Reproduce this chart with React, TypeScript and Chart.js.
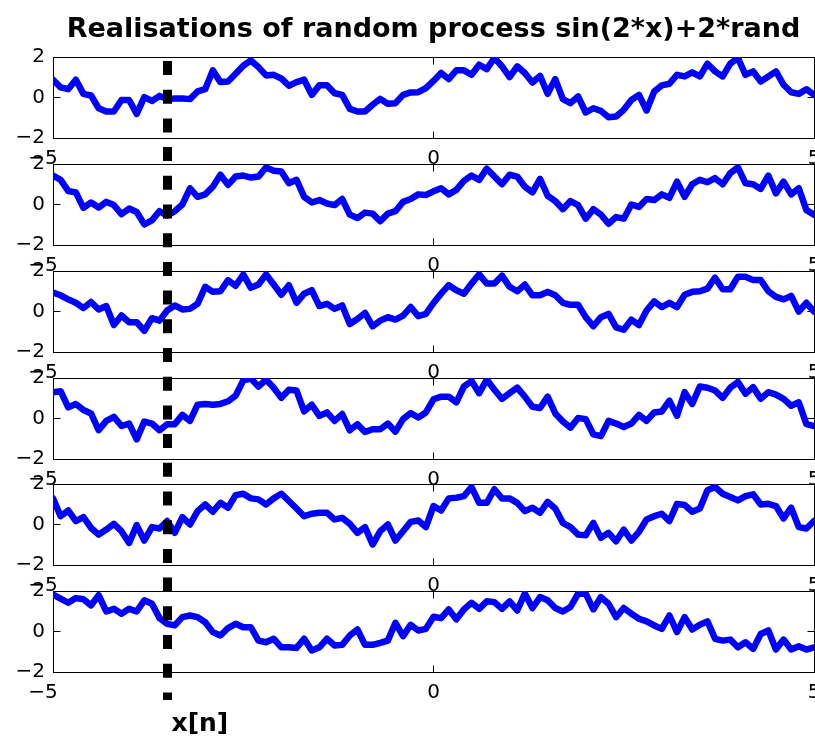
import { useEffect, useRef } from 'react';
import { Chart, registerables } from 'chart.js';

Chart.register(...registerables);

// Sample positions x = -5:0.1:5
const X_SAMPLES = [
  -5, -4.9, -4.8, -4.7, -4.6, -4.5, -4.4, -4.3, -4.2, -4.1,
  -4, -3.9, -3.8, -3.7, -3.6, -3.5, -3.4, -3.3, -3.2, -3.1,
  -3, -2.9, -2.8, -2.7, -2.6, -2.5, -2.4, -2.3, -2.2, -2.1,
  -2, -1.9, -1.8, -1.7, -1.6, -1.5, -1.4, -1.3, -1.2, -1.1,
  -1, -0.9, -0.8, -0.7, -0.6, -0.5, -0.4, -0.3, -0.2, -0.1,
  0, 0.1, 0.2, 0.3, 0.4, 0.5, 0.6, 0.7, 0.8, 0.9,
  1, 1.1, 1.2, 1.3, 1.4, 1.5, 1.6, 1.7, 1.8, 1.9,
  2, 2.1, 2.2, 2.3, 2.4, 2.5, 2.6, 2.7, 2.8, 2.9,
  3, 3.1, 3.2, 3.3, 3.4, 3.5, 3.6, 3.7, 3.8, 3.9,
  4, 4.1, 4.2, 4.3, 4.4, 4.5, 4.6, 4.7, 4.8, 4.9,
  5,
];

const REALISATION_1 = [
  0.88, 0.5, 0.41, 0.88, 0.18, 0.1, -0.53, -0.69, -0.69, -0.12,
  -0.12, -0.81, 0.02, -0.17, 0.08, -0.08, -0.05, -0.05, -0.08, 0.3,
  0.41, 1.34, 0.76, 0.79, 1.17, 1.57, 1.83, 1.5, 1.09, 1.12,
  0.94, 0.58, 0.76, 0.88, 0.13, 0.6, 0.6, 0.21, 0.13, -0.56,
  -0.69, -0.69, -0.36, -0.07, -0.31, -0.28, 0.13, 0.25, 0.26, 0.46,
  0.82, 1.21, 0.91, 1.34, 1.34, 1.12, 1.62, 1.4, 1.95, 1.54,
  1.01, 1.54, 1.21, 0.74, 1.07, 0.18, 0.91, -0.08, -0.28, 0.05,
  -0.74, -0.53, -0.66, -0.98, -0.94, -0.61, -0.12, 0.13, -0.64, 0.3,
  0.6, 0.68, 1.12, 1.04, 1.24, 1.04, 1.67, 1.29, 1.04, 1.67,
  1.95, 1.12, 1.29, 0.79, 1.04, 1.29, 0.63, 0.26, 0.18, 0.41,
  0.13,
];

const REALISATION_2 = [
  1.43, 1.22, 0.67, 0.6, -0.17, 0.1, -0.15, 0.13, -0.03, -0.48,
  -0.2, -0.37, -0.98, -0.78, -0.33, -0.55, -0.33, 0, 0.8, 0.38,
  0.5, 0.88, 1.47, 0.97, 1.38, 1.43, 1.33, 1.38, 1.83, 1.67,
  1.63, 1.05, 1.22, 0.38, 0.1, 0.22, 0.05, -0.03, 0.27, -0.5,
  -0.67, -0.4, -0.45, -0.83, -0.45, -0.33, 0.13, 0.27, 0.5, 0.47,
  0.65, 0.8, 0.5, 0.72, 1.17, 1.43, 1.22, 1.77, 1.38, 1.0,
  1.47, 1.38, 0.88, 0.6, 1.27, 0.43, 0.17, -0.23, 0.17, -0.03,
  -0.7, -0.23, -0.5, -0.95, -0.62, -0.7, 0, -0.12, 0.27, 0.22,
  0.5, 0.33, 1.13, 0.38, 1.0, 1.22, 1.1, 1.3, 1.0, 1.55,
  1.83, 1.05, 1.0, 0.77, 1.43, 0.55, 1.13, 0.5, 0.8, -0.28,
  -0.5,
];

const REALISATION_3 = [
  0.93, 0.8, 0.6, 0.43, 0.17, 0.47, 0.1, 0.27, -0.67, -0.2,
  -0.53, -0.53, -0.95, -0.33, -0.45, 0.05, 0.3, 0.1, 0.13, 0.38,
  1.22, 0.97, 1.0, 1.55, 1.27, 1.83, 1.17, 1.33, 1.83, 1.33,
  0.83, 1.3, 0.43, 0.88, 1.05, 0.27, 0.38, 0.13, 0.3, -0.62,
  -0.37, -0.07, -0.73, -0.45, -0.28, -0.4, -0.2, 0.22, -0.23, -0.12,
  0.42, 0.88, 1.3, 1.05, 0.88, 1.38, 1.83, 1.38, 1.38, 1.77,
  1.22, 1.0, 1.33, 0.8, 0.8, 0.97, 0.8, 0.43, 0.33, 0.33,
  -0.28, -0.73, -0.28, -0.12, -0.78, -0.9, -0.4, -0.67, 0.05, 0.5,
  0.22, 0.43, 0.22, 0.83, 0.97, 1.0, 1.13, 1.67, 1.1, 1.1,
  1.72, 1.72, 1.55, 1.55, 1.0, 0.72, 0.6, 0.77, 0, 0.43,
  0,
];

const REALISATION_4 = [
  1.3, 1.35, 0.55, 0.72, 0.42, 0.25, -0.58, -0.12, 0.08, -0.37,
  -0.25, -1.03, -0.15, -0.25, -0.58, -0.28, -0.28, 0.18, -0.12, 0.68,
  0.72, 0.68, 0.72, 0.85, 1.13, 1.88, 1.97, 1.58, 1.92, 1.52,
  1.02, 1.42, 1.38, 0.35, 0.68, 0.13, 0.3, -0.12, 0.22, -0.58,
  -0.28, -0.67, -0.53, -0.53, -0.25, -0.65, -0.03, 0.27, 0.05, 0.3,
  0.95, 1.08, 1.08, 0.8, 1.58, 1.85, 1.25, 1.92, 1.42, 0.97,
  1.25, 1.52, 1.08, 0.58, 0.52, 1.08, 0.25, -0.15, -0.45, 0.02,
  -0.03, -0.78, -0.87, -0.12, -0.25, -0.42, -0.25, 0.18, -0.12, 0.3,
  0.35, 0.88, 0.13, 1.3, 0.72, 1.58, 1.52, 1.38, 1.02, 1.52,
  1.8, 1.22, 1.55, 0.97, 1.3, 1.18, 0.97, 0.63, 0.8, -0.28,
  -0.37,
];

const REALISATION_5 = [
  1.29, 0.41, 0.69, 0.17, 0.36, -0.17, -0.5, -0.25, 0.03, -0.33,
  -0.91, -0.03, -0.79, -0.13, -0.2, 0.17, -0.41, 0.36, 0, 0.66,
  0.99, 0.63, 1.07, 0.83, 1.45, 1.52, 1.29, 1.24, 0.99, 1.29,
  1.52, 1.16, 0.79, 0.41, 0.53, 0.58, 0.58, 0.25, 0.33, 0.03,
  -0.41, -0.13, -0.99, -0.33, 0, -0.79, -0.33, 0.13, 0.2, -0.13,
  0.91, 0.69, 1.29, 1.32, 1.4, 1.85, 1.07, 1.07, 1.74, 1.29,
  1.29, 1.07, 0.66, 0.83, 0.58, 1.12, 0.79, 0.08, -0.13, -0.5,
  -0.53, 0.08, -0.66, -0.41, -0.83, -0.25, -0.79, -0.36, 0.25, 0.41,
  0.53, 0.17, 1.02, 0.96, 0.63, 0.79, 1.69, 1.85, 1.52, 1.36,
  1.19, 1.4, 1.49, 0.99, 1.02, 0.91, 0.3, 0.83, -0.13, -0.2,
  0.17,
];

const REALISATION_6 = [
  1.82, 1.62, 1.42, 1.65, 1.59, 1.29, 1.79, 0.99, 1.12, 0.88,
  1.12, 0.99, 1.54, 1.37, 0.66, 0.38, 0.3, 0.71, 0.79, 0.71,
  0.46, -0.03, -0.2, 0.17, 0.38, 0.21, 0.21, -0.45, -0.53, -0.36,
  -0.78, -0.78, -0.81, -0.36, -0.94, -0.78, -0.36, -0.69, -0.66, -0.2,
  0.1, -0.66, -0.66, -0.56, -0.45, 0.43, -0.23, 0.33, 0.05, 0.13,
  0.73, 0.66, 1.09, 0.6, 1.09, 1.42, 1.12, 1.49, 1.45, 1.12,
  1.49, 1.04, 1.87, 1.16, 1.7, 1.54, 1.16, 0.99, 1.21, 1.87,
  1.87, 1.09, 1.7, 1.37, 0.71, 1.16, 0.88, 0.63, 0.5, 0.3,
  0.13, 0.79, -0.03, 0.71, 0.1, 0.33, 0.5, -0.36, -0.45, -0.4,
  -0.78, -0.53, -0.86, -0.12, 0.05, -0.89, -0.4, -0.89, -0.73, -0.89,
  -0.78,
];

const REALISATIONS = [
  REALISATION_1,
  REALISATION_2,
  REALISATION_3,
  REALISATION_4,
  REALISATION_5,
  REALISATION_6,
];

const X_LIMITS = [-5, 5];
const X_TICK_STEP = 5;
const Y_LIMITS = [-2, 2];
const Y_TICK_STEP = 2;

const MARK_X = -3.5;
const MARK_LABEL = 'x[n]';
const TITLE = 'Realisations of random process sin(2*x)+2*rand';

// Figure geometry
const FIG_W = 815;
const FIG_H = 736;
const PANEL_TOPS = [0, 107, 214, 321, 427, 534];
const CANVAS_H = 202;
const AREA_TOP = 57;
const AREA_H = 81;
const AXIS_W = 53;
const TICK_LEN = 7;
const FONT = 'DejaVu Sans';
const LINE_BLUE = '#0000ff';

const MARK_TOP = PANEL_TOPS[0] + AREA_TOP + 4;
const MARK_BOTTOM = PANEL_TOPS[PANEL_TOPS.length - 1] + AREA_TOP + AREA_H + 28;
const MARK_LABEL_BASELINE = FIG_H - 5;

const minusText = (v: number) => (v < 0 ? '\u2212' + Math.abs(v) : String(v));

function buildConfig(series: number[], k: number): any {
  const panelTop = PANEL_TOPS[k];
  const isFirst = k === 0;
  const isLast = k === REALISATIONS.length - 1;
  const bandTop = panelTop;
  const bandBottom = isLast ? FIG_H : PANEL_TOPS[k + 1];

  const framePlugin = {
    id: 'axesFrame',
    beforeDatasetsDraw(chart: any) {
      const { ctx, chartArea: a, scales } = chart;
      const l = Math.floor(a.left) + 0.5;
      const r = Math.floor(a.right) + 0.5;
      const t = Math.floor(a.top) + 0.5;
      const b = Math.floor(a.bottom) + 0.5;
      ctx.save();
      ctx.strokeStyle = '#000';
      ctx.lineWidth = 1;
      ctx.strokeRect(l, t, r - l, b - t);
      ctx.beginPath();
      for (const tick of scales.x.ticks) {
        const px = Math.min(r, Math.max(l, Math.floor(scales.x.getPixelForValue(tick.value)) + 0.5));
        ctx.moveTo(px, t);
        ctx.lineTo(px, t + TICK_LEN);
        ctx.moveTo(px, b);
        ctx.lineTo(px, b - TICK_LEN);
      }
      for (const tick of scales.y.ticks) {
        const py = Math.min(b, Math.max(t, Math.floor(scales.y.getPixelForValue(tick.value)) + 0.5));
        ctx.moveTo(l, py);
        ctx.lineTo(l + TICK_LEN, py);
        ctx.moveTo(r, py);
        ctx.lineTo(r - TICK_LEN, py);
      }
      ctx.stroke();
      ctx.restore();
    },
  };

  const markPlugin = {
    id: 'sampleMark',
    afterDatasetsDraw(chart: any) {
      const { ctx, scales } = chart;
      const px = Math.round(scales.x.getPixelForValue(MARK_X) - 0.5) + 0.5;
      ctx.save();
      ctx.beginPath();
      ctx.rect(0, bandTop - panelTop, FIG_W, bandBottom - bandTop);
      ctx.clip();
      ctx.strokeStyle = '#000';
      ctx.lineWidth = 9;
      ctx.lineCap = 'butt';
      ctx.setLineDash([14, 14.7]);
      ctx.beginPath();
      ctx.moveTo(px, MARK_TOP - panelTop);
      ctx.lineTo(px, MARK_BOTTOM - panelTop);
      ctx.stroke();
      ctx.restore();
      if (isLast) {
        ctx.save();
        ctx.fillStyle = '#000';
        ctx.font = `bold 25px "${FONT}"`;
        ctx.textAlign = 'left';
        ctx.textBaseline = 'alphabetic';
        ctx.fillText(MARK_LABEL, px + 4, MARK_LABEL_BASELINE - panelTop);
        ctx.restore();
      }
    },
  };

  return {
    type: 'line',
    data: {
      datasets: [
        {
          data: X_SAMPLES.map((x, i) => ({ x, y: series[i] })),
          borderColor: LINE_BLUE,
          borderWidth: 6.5,
          borderJoinStyle: 'round',
          borderCapStyle: 'round',
          pointRadius: 0,
          pointHoverRadius: 0,
          tension: 0,
          fill: false,
          clip: 0,
        },
      ],
    },
    options: {
      responsive: false,
      animation: false,
      devicePixelRatio: 1,
      events: [],
      layout: {
        padding: { top: isFirst ? 0 : AREA_TOP, left: 0, right: 1, bottom: 0 },
      },
      plugins: {
        legend: { display: false },
        tooltip: { enabled: false },
        title: {
          display: isFirst,
          text: TITLE,
          color: '#000',
          fullSize: false,
          font: { family: FONT, size: 27, weight: 'bold', lineHeight: 1.2 },
          padding: { top: 13.5, bottom: AREA_TOP - 13.5 - 27 * 1.2 },
        },
      },
      scales: {
        x: {
          type: 'linear',
          min: X_LIMITS[0],
          max: X_LIMITS[1],
          grid: { display: false, drawTicks: false },
          border: { display: false },
          ticks: {
            stepSize: X_TICK_STEP,
            autoSkip: false,
            maxRotation: 0,
            color: '#000',
            padding: 9,
            font: { family: FONT, size: 20 },
            callback: (v: number) => (v < 0 ? minusText(v) + '\u2003' : minusText(v)),
          },
          afterFit(scale: any) {
            scale.height = CANVAS_H - AREA_TOP - AREA_H;
            scale.paddingLeft = 0;
            scale.paddingRight = 0;
          },
        },
        y: {
          type: 'linear',
          min: Y_LIMITS[0],
          max: Y_LIMITS[1],
          grid: { display: false, drawTicks: false },
          border: { display: false },
          ticks: {
            stepSize: Y_TICK_STEP,
            autoSkip: false,
            color: '#000',
            padding: 8,
            font: { family: FONT, size: 20 },
            callback: (v: number) => minusText(v),
          },
          afterFit(scale: any) {
            scale.width = AXIS_W;
            scale.paddingTop = 0;
            scale.paddingBottom = 0;
          },
        },
      },
    },
    plugins: [framePlugin, markPlugin],
  };
}

export default function App() {
  const canvasRefs = useRef<(HTMLCanvasElement | null)[]>([]);

  useEffect(() => {
    const charts = REALISATIONS.map(
      (series, k) => new Chart(canvasRefs.current[k] as HTMLCanvasElement, buildConfig(series, k))
    );
    return () => charts.forEach((c) => c.destroy());
  }, []);

  return (
    <div
      style={{
        position: 'absolute',
        left: 0,
        top: 0,
        width: FIG_W,
        height: FIG_H,
        background: '#fff',
        overflow: 'hidden',
      }}
    >
      {REALISATIONS.map((_, k) => (
        <canvas
          key={k}
          ref={(el) => {
            canvasRefs.current[k] = el;
          }}
          width={FIG_W}
          height={CANVAS_H}
          style={{ position: 'absolute', left: 0, top: PANEL_TOPS[k], width: FIG_W, height: CANVAS_H }}
        />
      ))}
    </div>
  );
}
